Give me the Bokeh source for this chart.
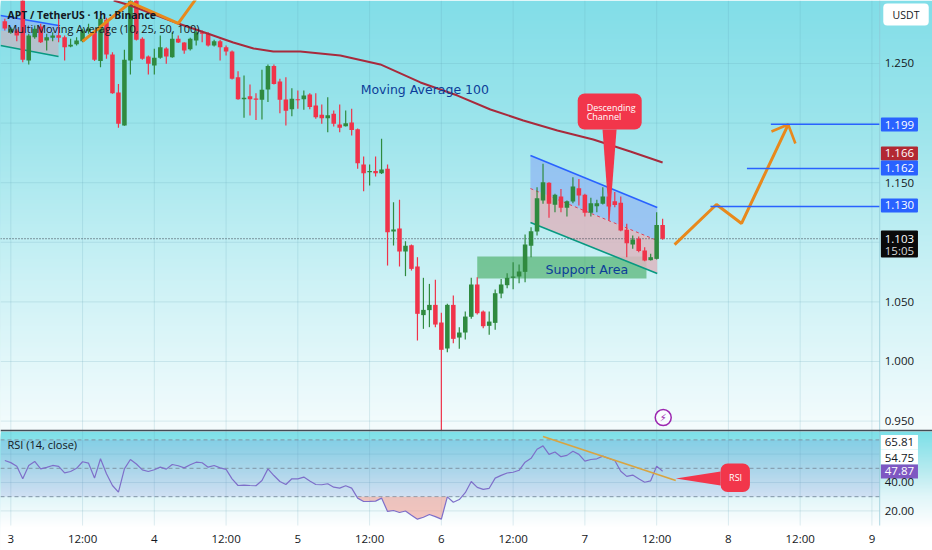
import numpy as np
from bokeh.plotting import figure
from bokeh.models import Range1d
from bokeh.core.properties import value
from bokeh.embed import file_html
from bokeh.resources import INLINE

# --- candles, one per hour; hour 0 is the tick "3"
first_hour = -1
opens = [1.2855,1.2763,1.2777,1.3112,1.2525,1.2721,1.2810,1.2693,1.2715,1.2738,1.2721,1.2643,1.2662,1.2687,1.2771,1.2763,1.2520,1.2866,1.2576,1.2257,1.1980,1.2525,1.3056,1.2707,1.2559,1.2483,1.2548,1.2626,1.2553,1.2707,1.2676,1.2620,1.2693,1.2763,1.2749,1.2651,1.2687,1.2637,1.2601,1.2385,1.2201,1.2226,1.2206,1.2195,1.2282,1.2478,1.2349,1.2198,1.2117,1.2201,1.2201,1.2240,1.2148,1.2069,1.2041,1.2078,1.1988,1.1974,1.2005,1.1949,1.1653,1.1588,1.1599,1.1580,1.1616,1.1091,1.1116,1.0923,1.0976,1.0797,1.0389,1.0431,1.0475,1.0327,1.0109,1.0475,1.0201,1.0243,1.0375,1.0646,1.0419,1.0299,1.0324,1.0570,1.0640,1.0702,1.0713,1.0752,1.0970,1.1091,1.1351,1.1499,1.1314,1.1384,1.1289,1.1342,1.1454,1.1398,1.1247,1.1303,1.1323,1.1384,1.1345,1.1331,1.1105,1.0982,1.1029,1.0931,1.0850,1.0861,1.1146]
highs = [1.2875,1.2805,1.2791,1.3140,1.2749,1.2819,1.2833,1.2749,1.2763,1.2889,1.2735,1.2707,1.2721,1.2791,1.2833,1.2777,1.2889,1.2883,1.2595,1.2329,1.2615,1.3070,1.3084,1.2721,1.2567,1.2623,1.2735,1.2637,1.2763,1.2735,1.2679,1.2715,1.2777,1.2777,1.2763,1.2699,1.2699,1.2651,1.2609,1.2436,1.2399,1.2324,1.2251,1.2447,1.2492,1.2492,1.2371,1.2385,1.2293,1.2273,1.2273,1.2251,1.2251,1.2156,1.2217,1.2106,1.2156,1.2106,1.2120,1.1955,1.1720,1.1653,1.1720,1.1868,1.1653,1.1337,1.1356,1.1009,1.0981,1.0875,1.0702,1.0651,1.0685,1.0408,1.0484,1.0554,1.0288,1.0419,1.0702,1.0707,1.0428,1.0419,1.0604,1.0693,1.0741,1.0833,1.0814,1.1065,1.1127,1.1462,1.1658,1.1504,1.1407,1.1448,1.1351,1.1546,1.1532,1.1407,1.1373,1.1356,1.1462,1.1407,1.1421,1.1384,1.1155,1.1057,1.1049,1.0959,1.0903,1.1253,1.1197]
lows = [1.2777,1.2749,1.2687,1.2511,1.2492,1.2707,1.2671,1.2609,1.2687,1.2679,1.2525,1.2637,1.2651,1.2679,1.2749,1.2520,1.2469,1.2539,1.2246,1.1960,1.1977,1.2408,1.2693,1.2531,1.2408,1.2408,1.2539,1.2497,1.2548,1.2671,1.2581,1.2609,1.2651,1.2679,1.2643,1.2643,1.2525,1.2567,1.2366,1.2195,1.2044,1.2064,1.2027,1.2030,1.2176,1.2324,1.2083,1.1980,1.2058,1.2120,1.2111,1.2117,1.2036,1.1994,1.1924,1.1971,1.1924,1.1971,1.1896,1.1616,1.1429,1.1476,1.1552,1.1574,1.0805,1.0973,1.0797,1.0716,1.0763,1.0176,1.0274,1.0288,1.0288,0.9425,1.0078,1.0154,1.0106,1.0184,1.0358,1.0394,1.0279,1.0224,1.0266,1.0531,1.0615,1.0607,1.0657,1.0665,1.0875,1.1057,1.1323,1.1205,1.1253,1.1253,1.1216,1.1328,1.1309,1.1216,1.1216,1.1253,1.1317,1.1183,1.1295,1.1093,1.0875,1.0945,1.0917,1.0842,1.0847,1.0856,1.1021]
closes = [1.2794,1.2791,1.2735,1.2531,1.2735,1.2791,1.2679,1.2721,1.2735,1.2715,1.2637,1.2657,1.2693,1.2777,1.2791,1.2531,1.2875,1.2576,1.2251,1.1994,1.2531,1.3056,1.2699,1.2539,1.2497,1.2548,1.2637,1.2559,1.2707,1.2676,1.2609,1.2707,1.2763,1.2749,1.2651,1.2687,1.2637,1.2601,1.2371,1.2201,1.2212,1.2201,1.2195,1.2279,1.2480,1.2329,1.2195,1.2103,1.2204,1.2192,1.2231,1.2134,1.2050,1.2041,1.2066,1.1994,1.1960,1.1999,1.1943,1.1664,1.1580,1.1599,1.1580,1.1611,1.1085,1.1107,1.0923,1.0970,1.0777,1.0400,1.0433,1.0475,1.0310,1.0098,1.0475,1.0190,1.0243,1.0377,1.0646,1.0405,1.0296,1.0335,1.0573,1.0646,1.0702,1.0713,1.0755,1.0981,1.1093,1.1370,1.1504,1.1323,1.1398,1.1289,1.1345,1.1468,1.1393,1.1247,1.1328,1.1328,1.1384,1.1300,1.1312,1.1099,1.0993,1.1024,1.0926,1.0847,1.0875,1.1146,1.1029]

# --- moving average 100
ma_hours = [17.2,20.0,28.0,32.9,37.2,40.6,43.9,48.4,55.1,61.8,68.5,74.7,80.2,85.7,91.4,97.4,103.6,109.0]
ma_values = [1.3029,1.2987,1.2836,1.2752,1.2676,1.2626,1.2601,1.2601,1.2567,1.2492,1.2341,1.2231,1.2114,1.2022,1.1938,1.1862,1.1762,1.1669]

# --- RSI, one per hour, starting one hour before tick "3"
rsi_values = [55.5,54,51.5,42.6,52,54.8,49.6,50.7,52,51.3,46.8,47.75,50,54.6,53.6,43.1,56.7,46.1,37.9,33.2,49.6,56.2,53,48.9,47.75,49,50.8,49.4,52.7,51.8,50.3,52.5,54.3,53.9,50.8,52,50.3,49.2,42.6,37.9,38.2,37.9,37.7,41.4,49.6,44.9,40.7,38.6,42.6,42.6,43.8,41,38.6,38.4,39.1,36.7,36,37.7,36,29,26.6,26.7,26.9,29,19.6,20.3,18.9,19.9,17,14.2,15.5,17.5,16,14.2,29.9,26.1,28,32.8,40.7,36.6,35.2,35.9,43.1,45,46.7,47.2,48.6,54.3,57,63.4,65.8,59.8,61.5,58.2,59.1,62,59.8,55,56.2,56.7,58.6,56.9,55.5,47.9,44.3,45.2,42.6,40.2,41.2,51.5,47.87]

# --- drawings
channel_hours = [86.9,108.1]
channel_top = [1.1728,1.1292]
channel_mid = [1.1451,1.1015]
channel_low = [1.1166,1.0738]
old_hours = [-1.72,7.98]
old_top = [1.2903,1.2819]
old_mid = [1.2777,1.2693]
old_low = [1.2651,1.2559]
old_zig_h = [12,20,28,30.9]
old_zig_p = [1.2685,1.3012,1.2836,1.3037]
path_h = [111.0,118.0,122.2,130.0]
path_p = [1.0981,1.1317,1.1158,1.1988]
head_h = [127.2,130.0,131.2]
head_p = [1.1929,1.1988,1.1829]
target_prices = [1.199,1.162,1.130]
target_starts = [127.1,123.1,117.0]
rsi_trend_h = [89.0,111.2]
rsi_trend_v = [72.4,41.4]

time_hours = [0,12,24,36,48,60,72,84,96,108,120,132,144]
time_labels = ["3","12:00","4","12:00","5","12:00","6","12:00","7","12:00","8","12:00","9"]
price_ticks = [1.25,1.15,1.05,1.00,0.95]
price_tick_labels = ["1.250","1.150","1.050","1.000","0.950"]
price_grid = [1.25,1.20,1.15,1.10,1.05,1.00,0.95]
rsi_ticks = [40,20]
rsi_tick_labels = ["40.00","20.00"]

X0, X1 = -1.7224, 154.13
Y_TOP, Y_BOT = 1.30285, 0.84144
PANE_EDGE = 0.9421
AXIS_H = 145.3
FOOT = 0.8624
TIME_Y = 0.8515

p = figure(width=932, height=550, output_backend="svg", toolbar_location=None,
           x_range=Range1d(X0, X1), y_range=Range1d(Y_BOT, Y_TOP),
           min_border=0, outline_line_color=None)
p.axis.visible = False
p.xgrid.visible = False
p.ygrid.visible = False
p.extra_y_ranges = {"rsi": Range1d(-7.89, 379.44)}
p.background_fill_color = "white"

# background gradient
def grad(stops):
    ys = np.arange(stops[0][0], stops[-1][0], 2.0)
    r = np.interp(ys, [s[0] for s in stops], [s[1] for s in stops])
    g = np.interp(ys, [s[0] for s in stops], [s[2] for s in stops])
    b = np.interp(ys, [s[0] for s in stops], [s[3] for s in stops])
    cols = ["#%02x%02x%02x" % (int(a), int(bb), int(cc)) for a, bb, cc in zip(r, g, b)]
    span = Y_TOP - Y_BOT
    top = Y_TOP - ys / 550 * span
    bottom = Y_TOP - (stops[-1][0]) / 550 * span
    p.quad(left=X0, right=X1, top=top, bottom=bottom, fill_color=cols, line_color=None)

grad([(0,130,222,232),(130,158,229,236),(280,205,242,246),(431,245,252,253)])
grad([(431,125,224,232),(470,185,235,240),(495,225,246,249),(526,255,255,255),(550,255,255,255)])

GRID = "#5f9fb5"
p.segment(x0=time_hours, x1=time_hours, y0=[Y_TOP]*13, y1=[FOOT]*13, line_color=GRID, line_alpha=0.2, line_width=1)
p.segment(x0=[X0]*7, x1=[AXIS_H]*7, y0=price_grid, y1=price_grid, line_color=GRID, line_alpha=0.2, line_width=1)
p.segment(x0=[X0]*3, x1=[AXIS_H]*3, y0=[60,40,20], y1=[60,40,20], y_range_name="rsi", line_color=GRID, line_alpha=0.2, line_width=1)

# RSI band and levels
p.quad(left=X0, right=AXIS_H, top=70, bottom=30, y_range_name="rsi", fill_color="#6a5acd", fill_alpha=0.14, line_color=None)
p.segment(x0=[X0]*3, x1=[AXIS_H]*3, y0=[70,50,30], y1=[70,50,30], y_range_name="rsi",
          line_color="#7f95a5", line_dash="4 3", line_width=1)
rsi_h = first_hour + np.arange(len(rsi_values))
rsi_arr = np.array(rsi_values, float)
mask = (rsi_h >= 58) & (rsi_h <= 73)
p.varea(x=rsi_h[mask], y1=np.minimum(rsi_arr[mask], 30), y2=np.full(mask.sum(), 30.0),
        y_range_name="rsi", fill_color="#f2a096", fill_alpha=0.6)
p.line(rsi_h, rsi_arr, y_range_name="rsi", line_color="#7e6fc9", line_width=1.2)
p.line(rsi_trend_h, rsi_trend_v, y_range_name="rsi", line_color="#d9a441", line_width=1.8)

# support
p.quad(left=78.0, right=106.3, top=1.0881, bottom=1.0696, fill_color="#3aa655", fill_alpha=0.58, line_color=None)

# channels
def channel(h, t, m, l, low_fill="#dcb6bf", dash=True):
    p.varea(x=h, y1=t, y2=m, fill_color="#8db6f2", fill_alpha=0.72)
    p.varea(x=h, y1=m, y2=l, fill_color=low_fill, fill_alpha=0.85)
    if dash:
        p.line(h, m, line_color="#e0405a", line_dash="3 3", line_width=1)
    p.line(h, t, line_color="#2962ff", line_width=1.6)
    p.line(h, l, line_color="#089981", line_width=1.6)
channel(old_hours, old_top, old_mid, old_low, low_fill="#bcbcc8", dash=False)
channel(channel_hours, channel_top, channel_mid, channel_low)

# last price line
p.line([X0, AXIS_H], [1.103, 1.103], line_color="#333a45", line_dash="1 2", line_width=1)

# candles
hours = first_hour + np.arange(len(opens))
o, h, l, c = map(lambda a: np.array(a, float), (opens, highs, lows, closes))
cols = np.where(c >= o, "#2f8a3f", "#f0334a").tolist()
p.segment(hours, h, hours, l, line_color=cols, line_alpha=1.0, line_width=1.2)
p.vbar(x=hours, width=0.76, top=np.maximum(o, c), bottom=np.minimum(o, c), fill_color=cols, line_color=None)

# moving average
p.line(ma_hours, ma_values, line_color="#a82a3c", line_width=2)

# orange drawings
p.line(old_zig_h, old_zig_p, line_color="#e8891c", line_width=3)
p.line(path_h, path_p, line_color="#e8891c", line_width=3)
p.line(head_h, head_p, line_color="#e8891c", line_width=2.6)
p.segment(x0=target_starts, x1=[AXIS_H]*3, y0=target_prices, y1=target_prices, line_color="#2962ff", line_width=1.5)

# pins
PIN = "#f2364b"
p.patch([98.95, 100.1, 101.3], [1.1946, 1.1166, 1.1946], fill_color=PIN, line_color=None)
p.quad(left=94.8, right=105.5, top=1.2248, bottom=1.1946, fill_color=PIN, line_color=None, border_radius=7)
p.patch([118.7, 111.2, 118.7], [47.7, 42.8, 37.9], y_range_name="rsi", fill_color=PIN, line_color=None)
p.quad(left=118.7, right=123.6, top=53.4, bottom=33.3, y_range_name="rsi", fill_color=PIN, line_color=None, border_radius=7)

def txt(x, y, s, size, color="#131722", font="Open Sans", align="left", style="normal", rng=None):
    kw = {"y_range_name": rng} if rng else {}
    p.text(x=[x], y=[y], text=[s], text_font=value(font), text_font_size=size, text_color=color,
           text_align=align, text_baseline="middle", text_font_style=style, **kw)

txt(96.3, 1.2131, "Descending", "9px", "white")
txt(96.3, 1.2055, "Channel", "9px", "white")
txt(121.2, 43.5, "RSI", "9px", "white", align="center", rng="rsi")
txt(58.5, 1.2282, "Moving Average 100", "12.5px", "#0c3d99", "DejaVu Sans")
txt(89.4, 1.0772, "Support Area", "12.6px", "#0c3d99", "DejaVu Sans")
txt(-0.55, 1.2911, "APT / TetherUS · 1h · Binance", "10.4px", style="bold")
txt(-0.55, 1.2794, "Multi Moving Average (10, 25, 50, 100)", "10.9px")
txt(-0.55, 66.8, "RSI (14, close)", "11px", rng="rsi")

# bolt
p.scatter([109.1], [0.9530], marker="circle", size=16, fill_color="white", fill_alpha=0.6, line_color="#9c27b0", line_width=1.5)
txt(109.1, 0.9530, "\u26a1", "10px", "#9c27b0", "DejaVu Sans", align="center")

# separators
p.segment([AXIS_H], [Y_TOP], [AXIS_H], [FOOT], line_color="#8fc7d6", line_alpha=0.7, line_width=1)
p.segment([X0], [PANE_EDGE], [X1], [PANE_EDGE], line_color="#454c55", line_width=1.5)

# right scale
BX0, BX1, BXC = 145.5, 151.7, 148.6
for s, t, b, col, tc, yy in [("1.199",1.2047,1.1929,"#2962ff","white",1.1988),
                             ("1.166",1.1804,1.1686,"#b22833","white",1.1745),
                             ("1.162",1.1686,1.1560,"#2962ff","white",1.1623),
                             ("1.130",1.1367,1.1250,"#2962ff","white",1.1309)]:
    p.quad(left=BX0, right=BX1, top=t, bottom=b, fill_color=col, line_color=None, border_radius=1)
    txt(BXC, yy, s, "11.5px", tc, align="center")
p.quad(left=BX0, right=BX1, top=1.1099, bottom=1.0872, fill_color="#0a0a0a", line_color=None, border_radius=1)
txt(BXC, 1.1031, "1.103", "11.5px", "white", align="center")
txt(BXC, 1.0931, "15:05", "11.5px", "#d8d8d8", align="center")
for v, s in zip(price_ticks, price_tick_labels):
    txt(BXC, v, s, "11.5px", align="center")

for s, t, b, col, tc, yy in [("65.81",73.5,63.2,"white","#131722",68.5),
                             ("54.75",63.2,52.7,"white","#131722",57.6),
                             ("47.87",52.7,42.8,"#7e57c2","white",47.75)]:
    p.quad(left=BX0, right=BX1, top=t, bottom=b, y_range_name="rsi", fill_color=col, line_color=None)
    txt(BXC, yy, s, "11.5px", tc, align="center", rng="rsi")
for v, s in zip(rsi_ticks, rsi_tick_labels):
    txt(BXC, v, s, "11.5px", align="center", rng="rsi")

# USDT
p.quad(left=145.9, right=153.5, top=1.3003, bottom=1.2819, fill_color="white", line_color=None, border_radius=4)
txt(149.7, 1.2911, "USDT", "10.5px", align="center")

# time axis
p.text(x=time_hours, y=[TIME_Y]*13, text=time_labels, text_font=value("Open Sans"), text_font_size="11.5px",
       text_color="#131722", text_align="center", text_baseline="middle")

open("out.html", "w").write(file_html(p, INLINE))
